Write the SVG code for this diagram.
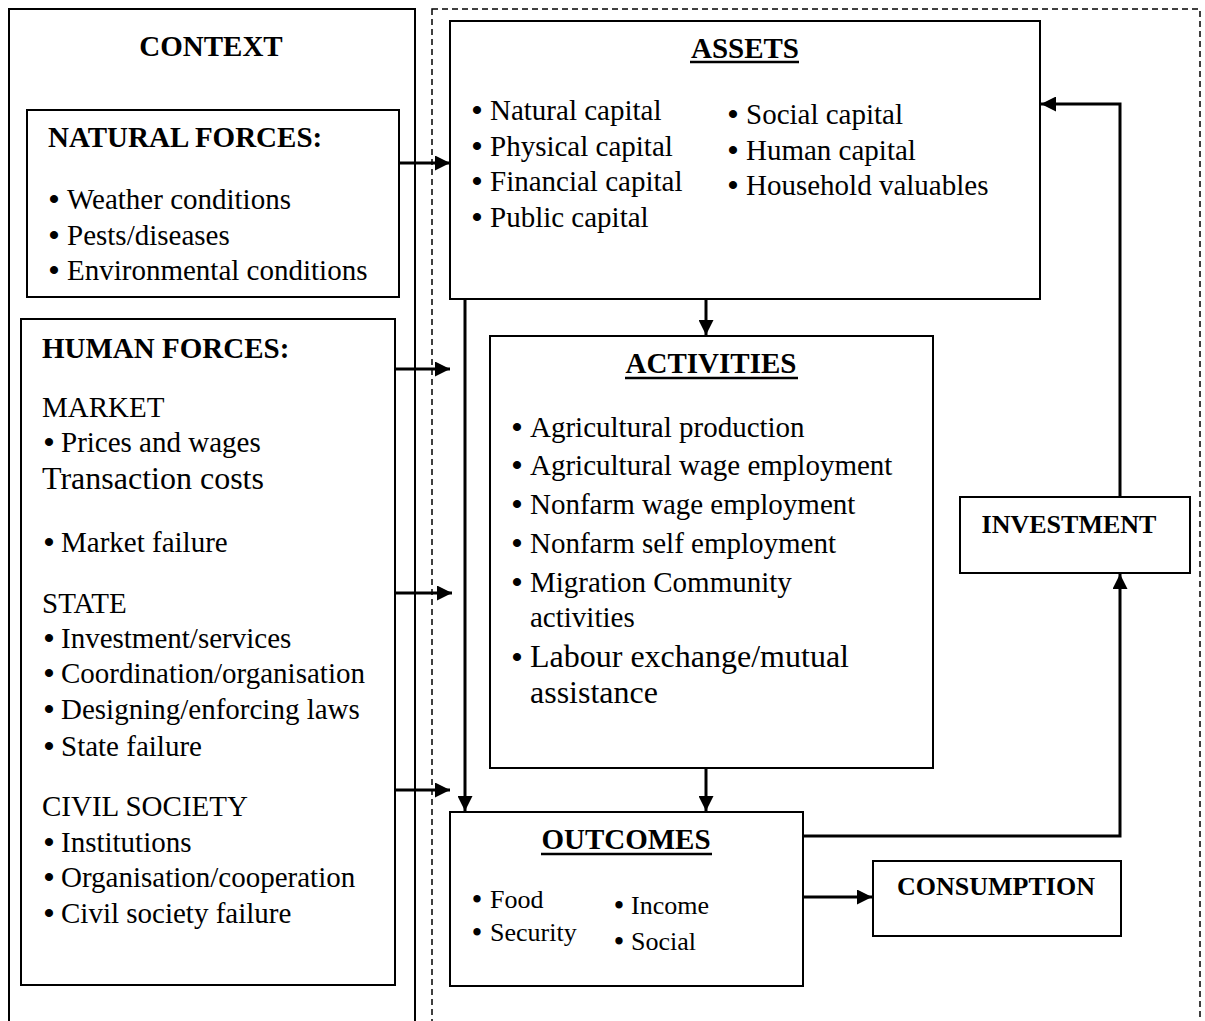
<svg xmlns="http://www.w3.org/2000/svg" width="1205" height="1021" viewBox="0 0 1205 1021">
<style>
  text { font-family: "Liberation Serif", "Times New Roman", serif; fill: #000; }
  .t { font-size: 29px; }
  .b { font-size: 29px; font-weight: bold; }
  .bs { font-size: 26px; font-weight: bold; }
  .big { font-size: 32px; }
  .sm { font-size: 26px; }
  .bl { font-size: 30px; font-weight: bold; text-anchor: middle; }
  .bls { font-size: 27px; font-weight: bold; text-anchor: middle; }
  .mid { text-anchor: middle; }
  .ul { stroke: #000; stroke-width: 2.5; }
  .box { fill: #fff; stroke: #000; stroke-width: 2; }
  .conn { fill: none; stroke: #000; stroke-width: 3; }
</style>
<defs>
  <marker id="ah" markerUnits="userSpaceOnUse" markerWidth="16" markerHeight="15" refX="15" refY="7.5" orient="auto">
    <path d="M0,0 L15,7.5 L0,15 z" fill="#000"/>
  </marker>
</defs>
<rect x="0" y="0" width="1205" height="1021" fill="#fff"/>

<g id="context">
  <rect x="9" y="9" width="406" height="1030" fill="none" stroke="#000" stroke-width="2"/>
  <text class="b mid" x="211" y="56">CONTEXT</text>
</g>
<g id="dashed-frame">
  <rect x="432" y="9" width="768" height="1030" fill="none" stroke="#000" stroke-width="1.5" stroke-dasharray="6,4"/>
</g>

<g id="natural-forces">
  <rect class="box" x="27" y="110" width="372" height="187"/>
  <text class="b" x="48" y="147">NATURAL FORCES:</text>
  <text class="bl" x="54" y="209">•</text><text class="t" x="67" y="209">Weather conditions</text>
  <text class="bl" x="54" y="245">•</text><text class="t" x="67" y="245">Pests/diseases</text>
  <text class="bl" x="54" y="280">•</text><text class="t" x="67" y="280">Environmental conditions</text>
</g>

<g id="human-forces">
  <rect class="box" x="21" y="319" width="374" height="666"/>
  <text class="b" x="42" y="358">HUMAN FORCES:</text>
  <text class="t" x="42" y="417">MARKET</text>
  <text class="bl" x="49" y="452">•</text><text class="t" x="61" y="452">Prices and wages</text>
  <text class="big" x="42" y="489">Transaction costs</text>
  <text class="bl" x="49" y="552">•</text><text class="t" x="61" y="552">Market failure</text>
  <text class="t" x="42" y="613">STATE</text>
  <text class="bl" x="49" y="648">•</text><text class="t" x="61" y="648">Investment/services</text>
  <text class="bl" x="49" y="683">•</text><text class="t" x="61" y="683">Coordination/organisation</text>
  <text class="bl" x="49" y="719">•</text><text class="t" x="61" y="719">Designing/enforcing laws</text>
  <text class="bl" x="49" y="756">•</text><text class="t" x="61" y="756">State failure</text>
  <text class="t" x="42" y="816">CIVIL SOCIETY</text>
  <text class="bl" x="49" y="852">•</text><text class="t" x="61" y="852">Institutions</text>
  <text class="bl" x="49" y="887">•</text><text class="t" x="61" y="887">Organisation/cooperation</text>
  <text class="bl" x="49" y="923">•</text><text class="t" x="61" y="923">Civil society failure</text>
</g>

<g id="assets">
  <rect class="box" x="450" y="21" width="590" height="278"/>
  <text class="b mid" x="745" y="58">ASSETS</text>
  <line class="ul" x1="690" y1="62" x2="799" y2="62"/>
  <text class="bl" x="477" y="120">•</text><text class="t" x="490" y="120">Natural capital</text>
  <text class="bl" x="477" y="156">•</text><text class="t" x="490" y="156">Physical capital</text>
  <text class="bl" x="477" y="191">•</text><text class="t" x="490" y="191">Financial capital</text>
  <text class="bl" x="477" y="227">•</text><text class="t" x="490" y="227">Public capital</text>
  <text class="bl" x="733" y="124">•</text><text class="t" x="746" y="124">Social capital</text>
  <text class="bl" x="733" y="160">•</text><text class="t" x="746" y="160">Human capital</text>
  <text class="bl" x="733" y="195">•</text><text class="t" x="746" y="195">Household valuables</text>
</g>

<g id="activities">
  <rect class="box" x="490" y="336" width="443" height="432"/>
  <text class="b mid" x="711" y="373">ACTIVITIES</text>
  <line class="ul" x1="625" y1="378" x2="798" y2="378"/>
  <text class="bl" x="517" y="437">•</text><text class="t" x="530" y="437">Agricultural production</text>
  <text class="bl" x="517" y="475">•</text><text class="t" x="530" y="475">Agricultural wage employment</text>
  <text class="bl" x="517" y="514">•</text><text class="t" x="530" y="514">Nonfarm wage employment</text>
  <text class="bl" x="517" y="553">•</text><text class="t" x="530" y="553">Nonfarm self employment</text>
  <text class="bl" x="517" y="592">•</text><text class="t" x="530" y="592">Migration Community</text>
  <text class="t" x="530" y="627">activities</text>
  <text class="bl" x="517" y="667">•</text><text class="big" x="530" y="667">Labour exchange/mutual</text>
  <text class="big" x="530" y="703">assistance</text>
</g>

<g id="outcomes">
  <rect class="box" x="450" y="812" width="353" height="174"/>
  <text class="b mid" x="626" y="849">OUTCOMES</text>
  <line class="ul" x1="541" y1="854" x2="712" y2="854"/>
  <text class="bls" x="477" y="908">•</text><text class="sm" x="490" y="908">Food</text>
  <text class="bls" x="477" y="941">•</text><text class="sm" x="490" y="941">Security</text>
  <text class="bls" x="619" y="914">•</text><text class="sm" x="631" y="914">Income</text>
  <text class="bls" x="619" y="950">•</text><text class="sm" x="631" y="950">Social</text>
</g>

<g id="investment">
  <rect class="box" x="960" y="497" width="230" height="76"/>
  <text class="bs mid" x="1069" y="533">INVESTMENT</text>
</g>

<g id="consumption">
  <rect class="box" x="873" y="861" width="248" height="75"/>
  <text class="bs mid" x="996" y="895">CONSUMPTION</text>
</g>

<g id="connectors">
  <line class="conn" x1="399" y1="163" x2="450" y2="163" marker-end="url(#ah)"/>
  <line class="conn" x1="395" y1="369" x2="450" y2="369" marker-end="url(#ah)"/>
  <line class="conn" x1="395" y1="593" x2="452" y2="593" marker-end="url(#ah)"/>
  <line class="conn" x1="395" y1="790" x2="450" y2="790" marker-end="url(#ah)"/>
  <line class="conn" x1="465" y1="299" x2="465" y2="811" marker-end="url(#ah)"/>
  <line class="conn" x1="706" y1="299" x2="706" y2="335" marker-end="url(#ah)"/>
  <line class="conn" x1="706" y1="768" x2="706" y2="811" marker-end="url(#ah)"/>
  <line class="conn" x1="803" y1="897" x2="872" y2="897" marker-end="url(#ah)"/>
  <polyline class="conn" points="803,836 1120,836 1120,574" marker-end="url(#ah)"/>
  <polyline class="conn" points="1120,497 1120,104 1041,104" marker-end="url(#ah)"/>
</g>
</svg>
